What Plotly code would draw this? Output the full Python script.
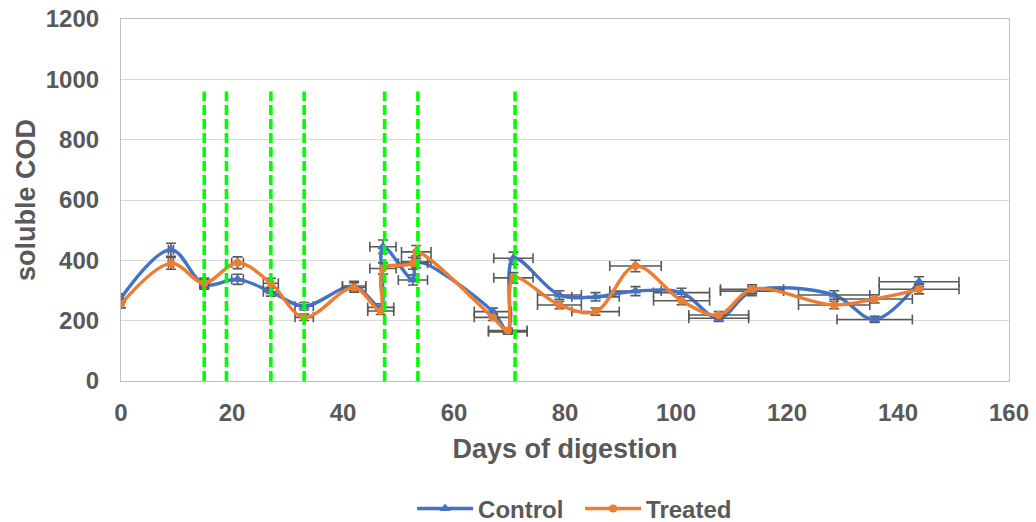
import plotly.graph_objects as go

# Sampling days (some days sampled before and after a feed)
days = [0, 9, 15, 21, 27, 33, 42, 46.8, 47.2, 52.6, 53.2, 67, 69.7, 70.7,
        79, 85.5, 92.7, 101, 107.7, 113.7, 128.5, 135.8, 143.8]

control = [275, 435, 320, 337, 296, 248, 315, 244, 445, 335, 395, 230, 163, 407,
           285, 279, 298, 293, 208, 298, 285, 204, 329]
treated = [255, 390, 325, 392, 324, 211, 310, 232, 373, 390, 428, 211, 167, 342,
           252, 230, 381, 266, 219, 304, 252, 272, 304]

# Feeding events marked with vertical dashed lines
feed_days = [15, 19, 27, 33, 47.5, 53.5, 71]
feed_line_top = 960

error_pct = 5

x_ticks = [0, 20, 40, 60, 80, 100, 120, 140, 160]
y_ticks = [0, 200, 400, 600, 800, 1000, 1200]

text_grey = "#595959"
font_family = "Liberation Sans, Arial, sans-serif"

err_style = dict(type="percent", value=error_pct, color=text_grey,
                 thickness=1.6, width=5)

fig = go.Figure()

fig.add_trace(go.Scatter(
    x=days, y=control, name="<b>Control</b>", mode="lines+markers",
    line=dict(color="#4472C4", width=3.4, shape="spline", smoothing=1.0),
    marker=dict(symbol="triangle-up", size=10, color="#4472C4"),
    error_x=err_style, error_y=err_style,
))
fig.add_trace(go.Scatter(
    x=days, y=treated, name="<b>Treated</b>", mode="lines+markers",
    line=dict(color="#ED7D31", width=3.4, shape="spline", smoothing=1.0),
    marker=dict(symbol="circle", size=8, color="#ED7D31"),
    error_x=err_style, error_y=err_style,
))

feed_x, feed_y = [], []
for d in feed_days:
    feed_x += [d, d, None]
    feed_y += [0, feed_line_top, None]
fig.add_trace(go.Scatter(
    x=feed_x, y=feed_y, mode="lines", showlegend=False, hoverinfo="skip",
    line=dict(color="#00FF00", width=3.6, dash="10px,4px"),
))

fig.update_layout(
    width=1036, height=522,
    margin=dict(l=121, r=27, t=19, b=141, autoexpand=False),
    paper_bgcolor="white", plot_bgcolor="white",
    font=dict(family=font_family, color=text_grey, size=24),
    showlegend=True,
    legend=dict(orientation="h", x=0.517, xanchor="center",
                yref="container", y=0.025, yanchor="middle",
                font=dict(size=24, color=text_grey), itemwidth=56,
                entrywidth=97, traceorder="normal"),
)

fig.update_xaxes(
    range=[0, 160], tickvals=x_ticks, ticktext=[f"<b>{v}</b>" for v in x_ticks],
    showgrid=False, zeroline=False, automargin=False,
    showline=True, linecolor="#BFBFBF", linewidth=1.2, mirror=True,
    ticks="", ticklabelstandoff=10,
    title=dict(text="<b>Days of digestion</b>", font=dict(size=27, color=text_grey),
               standoff=14),
)
fig.update_yaxes(
    range=[0, 1200], tickvals=y_ticks, ticktext=[f"<b>{v}</b>" for v in y_ticks],
    showgrid=True, gridcolor="#D9D9D9", gridwidth=1.2, zeroline=False, automargin=False,
    showline=True, linecolor="#BFBFBF", linewidth=1.2, mirror=True,
    ticks="", ticklabelstandoff=16,
    title=dict(text="<b>soluble COD</b>", font=dict(size=27, color=text_grey),
               standoff=2),
)

fig.write_html("out.html")
